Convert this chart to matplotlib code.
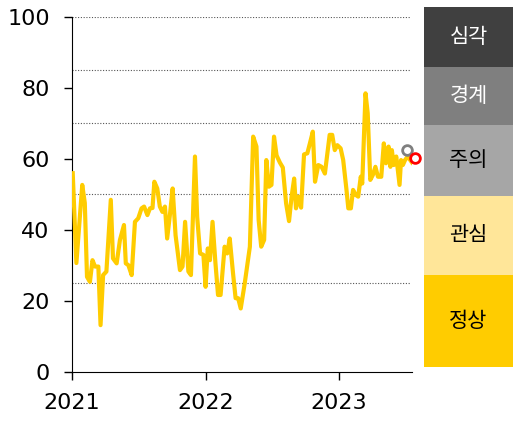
import matplotlib
matplotlib.use('Agg')
import matplotlib.pyplot as plt
import pandas as pd

plt.rcParams['font.family'] = ['Noto Sans CJK KR', 'DejaVu Sans']

# index values
dates = ['2021-01-03', '2021-01-13', '2021-01-29', '2021-02-05', '2021-02-11', '2021-02-19',
         '2021-02-26', '2021-03-05', '2021-03-14', '2021-03-20', '2021-03-27', '2021-04-05',
         '2021-04-17', '2021-04-23', '2021-05-03', '2021-05-12', '2021-05-23', '2021-05-28',
         '2021-06-04', '2021-06-13', '2021-06-22', '2021-07-01', '2021-07-10', '2021-07-17',
         '2021-07-26', '2021-08-02', '2021-08-09', '2021-08-14', '2021-08-22', '2021-08-29',
         '2021-09-05', '2021-09-12', '2021-09-18', '2021-09-26', '2021-10-03', '2021-10-11',
         '2021-10-23', '2021-10-30', '2021-11-06', '2021-11-15', '2021-11-22', '2021-12-03',
         '2021-12-09', '2021-12-17', '2021-12-26', '2022-01-01', '2022-01-07', '2022-01-13',
         '2022-01-20', '2022-01-28', '2022-02-04', '2022-02-11', '2022-02-22', '2022-03-01',
         '2022-03-08', '2022-03-17', '2022-03-24', '2022-03-31', '2022-04-07', '2022-04-18',
         '2022-05-02', '2022-05-11', '2022-05-20', '2022-05-26', '2022-06-02', '2022-06-10',
         '2022-06-16', '2022-06-23', '2022-06-30', '2022-07-07', '2022-07-14', '2022-07-23',
         '2022-07-31', '2022-08-09', '2022-08-17', '2022-08-24', '2022-08-31', '2022-09-05',
         '2022-09-12', '2022-09-19', '2022-09-27', '2022-10-06', '2022-10-13', '2022-10-21',
         '2022-10-27', '2022-11-05', '2022-11-14', '2022-11-23', '2022-12-06', '2022-12-13',
         '2022-12-20', '2022-12-27', '2023-01-05', '2023-01-12', '2023-01-21', '2023-01-26',
         '2023-02-02', '2023-02-08', '2023-02-15', '2023-02-22', '2023-03-01', '2023-03-05',
         '2023-03-14', '2023-03-20', '2023-03-27', '2023-04-03', '2023-04-10', '2023-04-17',
         '2023-04-26', '2023-05-03', '2023-05-09', '2023-05-16', '2023-05-21', '2023-05-25',
         '2023-05-30', '2023-06-06', '2023-06-15', '2023-06-19', '2023-06-24', '2023-06-30',
         '2023-07-07', '2023-07-19']
values = [56, 30.7, 52.7, 47.6, 26.8, 25.4,
          31.5, 29.7, 29.7, 13.2, 27.3, 28.3,
          48.5, 32, 30.6, 37.2, 41.4, 30.6,
          30.1, 27.3, 42.3, 43.3, 46.1, 46.6,
          44.2, 46.1, 46.2, 53.6, 51.7, 46.6,
          45.1, 46.6, 37.6, 44.7, 51.7, 38.5,
          28.7, 29.7, 42.3, 28.3, 27.3, 60.7,
          43.7, 33.4, 33, 24, 34.8, 31.5,
          42.3, 30.6, 21.7, 21.7, 35.3, 33.4,
          37.6, 27.8, 20.8, 20.8, 17.9, 25,
          35.3, 66.3, 63.5, 42.8, 35.3, 37.2,
          59.7, 52.2, 52.7, 66.3, 61, 59,
          57.6, 47.5, 42.5, 49.4, 54.5, 46.1,
          49.4, 46.3, 61.3, 61.6, 64.4, 67.7,
          53.6, 58.3, 57.8, 55.9, 66.8, 66.8,
          62.5, 63.9, 63, 59.7, 51.3, 46.1,
          46.1, 51.3, 49.9, 49.4, 55, 53.1,
          78.5, 72.9, 54.1, 55.5, 57.8, 55,
          55, 64.4, 58.8, 63.5, 57.8, 62.5,
          58.3, 60.7, 52.7, 59.7, 58.3, 59.7,
          60.7, 59]

prev_date, prev_value = '2023-07-06', 62.4
last_date, last_value = '2023-07-28', 60.2

grid_levels = [25, 50, 70, 85, 100]

# alert stages, bottom to top
stage_names = ['정상', '관심', '주의', '경계', '심각']
stage_colors = ['#ffcc00', '#ffe699', '#a6a6a6', '#7f7f7f', '#404040']
stage_text = ['black', 'black', 'black', 'white', 'white']
stage_heights = [92, 79, 71, 58, 60]

fig = plt.figure(figsize=(5.13, 4.25), dpi=100)
ax = fig.add_axes([72 / 513, 53 / 425, 340 / 513, 355 / 425])

x = pd.to_datetime(dates)
ax.plot(x, values, color='#ffcc00', lw=3, zorder=3)
ax.plot(pd.to_datetime([prev_date]), [prev_value], 'o', ms=7, mfc='white',
        mec='#7f7f7f', mew=2, zorder=4, clip_on=False)
ax.plot(pd.to_datetime([last_date]), [last_value], 'o', ms=7, mfc='white',
        mec='#ff0000', mew=2, zorder=5, clip_on=False)

for lv in grid_levels:
    ax.axhline(lv, xmax=0.995, color='#555555', ls=(0, (1, 1.5)), lw=0.8, zorder=1)

ax.set_ylim(0, 100)
ax.set_xlim(pd.Timestamp('2021-01-01'), pd.Timestamp('2023-07-19'))
ax.set_yticks([0, 20, 40, 60, 80, 100])
ax.set_xticks(pd.to_datetime(['2021-01-01', '2022-01-01', '2023-01-01']))
ax.set_xticklabels(['2021', '2022', '2023'])
for lab in ax.get_xticklabels() + ax.get_yticklabels():
    lab.set_family('DejaVu Sans')
ax.tick_params(axis='both', labelsize=16, direction='out', width=1)
ax.tick_params(axis='y', length=6, pad=10)
ax.tick_params(axis='x', length=6, pad=9)
for s in ['top', 'right']:
    ax.spines[s].set_visible(False)

# stage legend boxes on the right
bx = fig.add_axes([424 / 513, 58 / 425, 89 / 513, 360 / 425])
bottom = 0
for name, col, tc, h in zip(stage_names, stage_colors, stage_text, stage_heights):
    bx.bar(0.5, h, width=1, bottom=bottom, color=col)
    bx.text(0.5, bottom + h / 2, name, color=tc, ha='center', va='center', fontsize=15)
    bottom += h
bx.set_xlim(0, 1)
bx.set_ylim(0, bottom)
bx.axis('off')

fig.savefig('out.png', dpi=100)
